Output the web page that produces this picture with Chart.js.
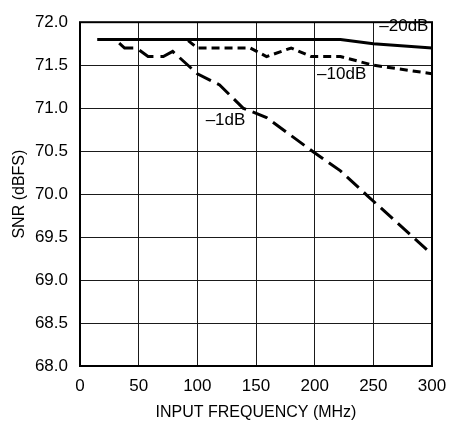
<!DOCTYPE html>
<html>
<head>
<meta charset="utf-8">
<script src="https://cdn.jsdelivr.net/npm/chart.js@4/dist/chart.umd.min.js"></script>
<style>
  html, body { margin: 0; padding: 0; background: #fff; }
  #wrap { width: 461px; height: 421px; }
</style>
</head>
<body>
<div id="wrap"><canvas id="c" width="461" height="421"></canvas></div>
<script>
// input frequency (MHz) vs SNR (dBFS)
const freq20 = [15, 222, 250, 300];
const snr20 = [71.8, 71.8, 71.75, 71.7];

const freq10 = [15, 91, 100, 145, 159, 180, 197, 222, 250, 300];
const snr10 = [71.8, 71.8, 71.7, 71.7, 71.6, 71.7, 71.6, 71.6, 71.5, 71.4];

const freq1 = [15, 30, 38, 48, 58, 71, 79, 100, 119, 139, 159, 199, 222, 245, 283, 300];
const snr1 = [71.8, 71.8, 71.7, 71.7, 71.6, 71.6, 71.66, 71.4, 71.27, 71.0, 70.89, 70.49, 70.27, 69.98, 69.51, 69.3];

const seriesNames = ["\u20131dB", "\u201310dB", "\u201320dB"];
const labelAt = [[124, 70.86], [223, 71.39], [276, 71.95]];

const FONT = "'Liberation Sans', Arial, sans-serif";

const toPoints = (xs, ys) => xs.map((x, i) => ({ x: x, y: ys[i] }));

// curve labels drawn next to their lines
const curveLabels = {
    id: "curveLabels",
    afterDatasetsDraw(chart) {
        const { ctx, scales } = chart;
        ctx.save();
        ctx.font = "17px " + FONT;
        ctx.fillStyle = "#000";
        ctx.textAlign = "center";
        ctx.textBaseline = "middle";
        seriesNames.forEach((name, i) => {
            const px = scales.x.getPixelForValue(labelAt[i][0]);
            const py = scales.y.getPixelForValue(labelAt[i][1]);
            ctx.fillText(name, px, py);
        });
        ctx.restore();
    }
};

// heavy frame round the plot area
const frame = {
    id: "frame",
    afterDraw(chart) {
        const { ctx, chartArea: a } = chart;
        ctx.save();
        ctx.strokeStyle = "#000";
        ctx.lineWidth = 2;
        ctx.strokeRect(a.left, a.top, a.right - a.left, a.bottom - a.top);
        ctx.restore();
    }
};

const lineStyle = {
    borderColor: "#000",
    borderWidth: 3,
    pointRadius: 0,
    tension: 0,
    fill: false
};

new Chart(document.getElementById("c"), {
    type: "line",
    data: {
        datasets: [
            { ...lineStyle, label: seriesNames[0], data: toPoints(freq1, snr1), borderDash: [16, 7] },
            { ...lineStyle, label: seriesNames[1], data: toPoints(freq10, snr10), borderDash: [8, 5] },
            { ...lineStyle, label: seriesNames[2], data: toPoints(freq20, snr20) }
        ]
    },
    options: {
        responsive: false,
        animation: false,
        layout: { padding: { top: 14, right: 29, bottom: 0, left: 0 } },
        plugins: {
            legend: { display: false },
            tooltip: { enabled: false }
        },
        scales: {
            x: {
                type: "linear",
                min: 0,
                max: 300,
                ticks: { stepSize: 50, color: "#000", padding: 10, font: { family: FONT, size: 17 } },
                grid: { color: "#1a1a1a", lineWidth: 1, drawTicks: false },
                border: { display: false },
                title: {
                    display: true,
                    text: "INPUT FREQUENCY (MHz)",
                    color: "#000",
                    font: { family: FONT, size: 16, lineHeight: 1.05 },
                    padding: { top: 0, bottom: 0 }
                },
                afterFit(scale) { scale.height = 55; }
            },
            y: {
                min: 68,
                max: 72,
                ticks: {
                    stepSize: 0.5,
                    color: "#000",
                    padding: 12,
                    font: { family: FONT, size: 17 },
                    callback: (v) => Number(v).toFixed(1)
                },
                grid: { color: "#1a1a1a", lineWidth: 1, drawTicks: false },
                border: { display: false },
                title: {
                    display: true,
                    text: "SNR (dBFS)",
                    color: "#000",
                    font: { family: FONT, size: 16, lineHeight: 1 },
                    padding: { top: 12, bottom: 0 }
                },
                afterFit(scale) { scale.width = 80; }
            }
        }
    },
    plugins: [curveLabels, frame]
});
</script>
</body>
</html>
